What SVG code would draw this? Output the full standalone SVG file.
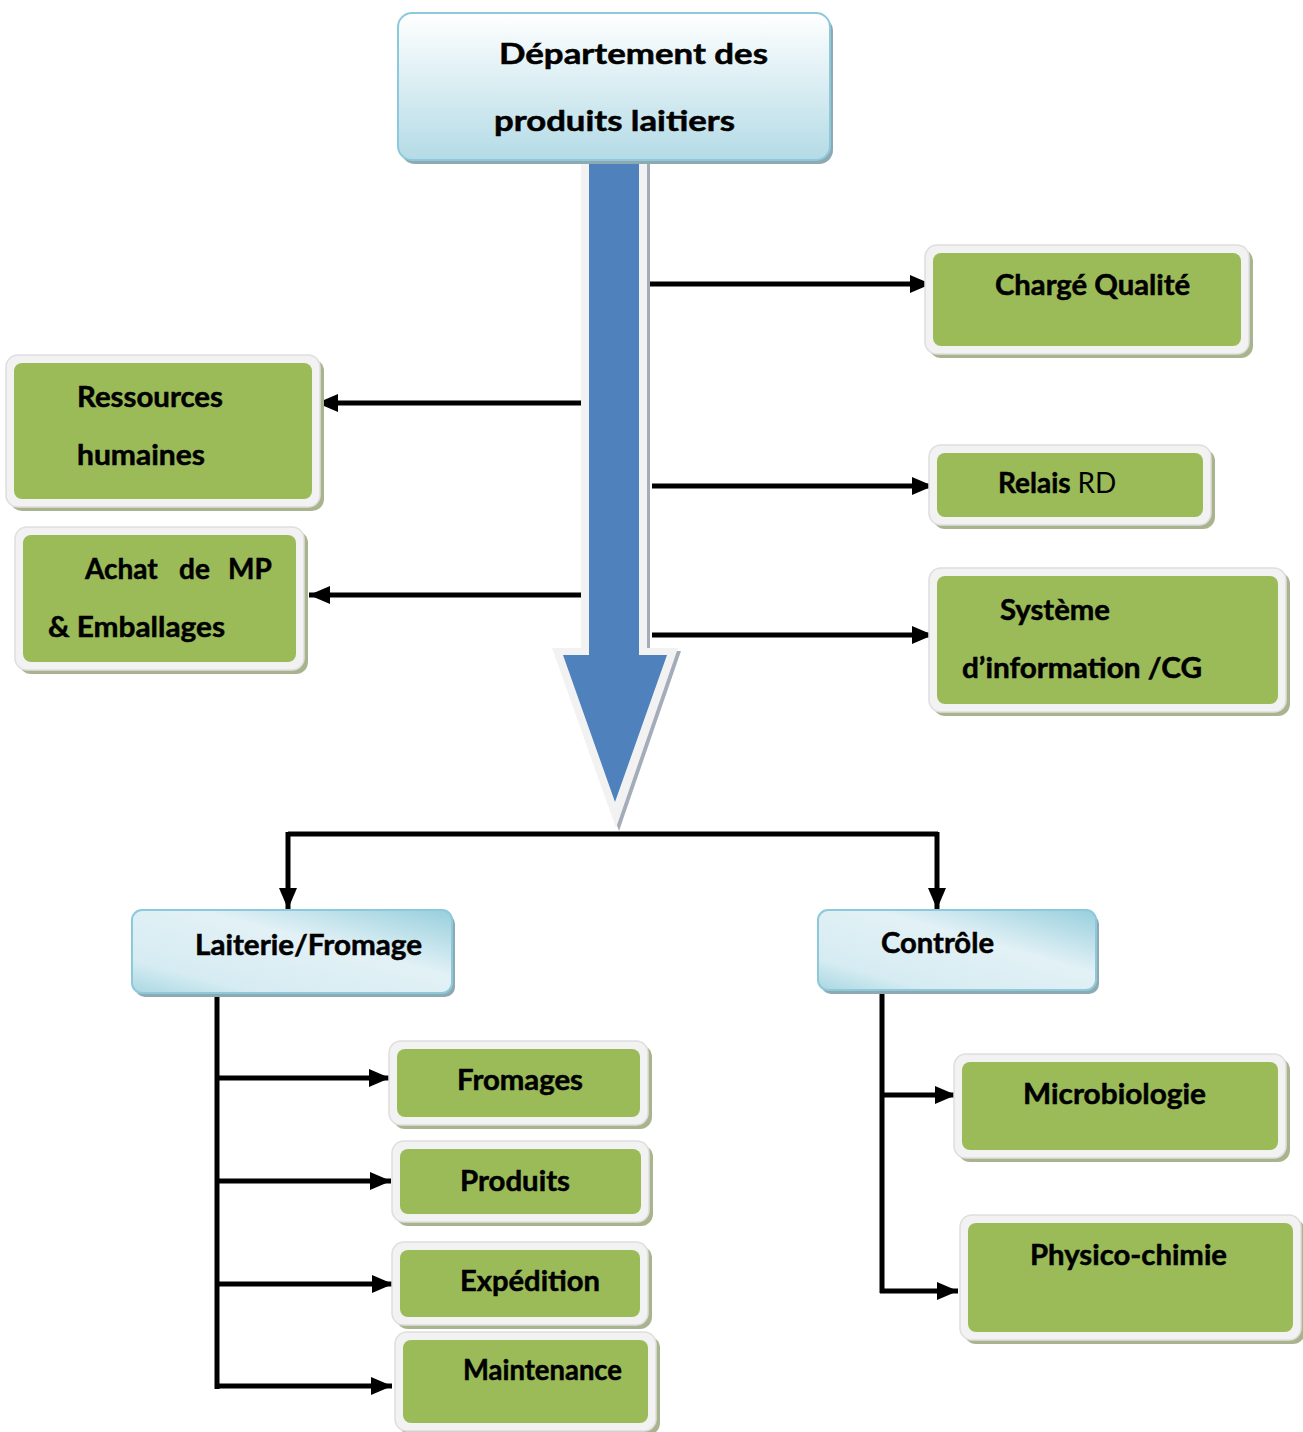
<svg xmlns="http://www.w3.org/2000/svg" width="1303" height="1432" viewBox="0 0 1303 1432">
<style>
.t{font-family:Lato,"Liberation Sans",sans-serif;font-weight:bold;font-size:28px;fill:#000;stroke:#000;stroke-width:0.5}
.r{font-weight:normal;stroke-width:0}
.gframe{fill:#f2f2f2;stroke:#dedede;stroke-width:1.5}
.gshadow{fill:#a9b48e}
.green{fill:#9bbb59}
.bshadow{fill:#8fa9b2}
.conn{stroke:#000;stroke-width:5;fill:none}
</style>
<defs>
<linearGradient id="gTop" x1="0" y1="0" x2="0" y2="1">
<stop offset="0" stop-color="#ffffff"/>
<stop offset="1" stop-color="#b4dbe6"/>
</linearGradient>
<linearGradient id="gSub" x1="0" y1="1" x2="1" y2="0">
<stop offset="0" stop-color="#a9d7e3"/>
<stop offset="0.2" stop-color="#d6ecf2"/>
<stop offset="0.6" stop-color="#e2f1f6"/>
<stop offset="1" stop-color="#97cfdd"/>
</linearGradient>
<marker id="ah" markerUnits="userSpaceOnUse" markerWidth="21" markerHeight="18" refX="21" refY="9" orient="auto">
<path d="M0,0 L21,9 L0,18 Z" fill="#000"/>
</marker>
</defs>

<g id="big-arrow">
<polygon points="584,163 650,163 650,651 681,651 619,831 555,651 584,651" fill="#a3acb8"/>
<polygon points="581,160 647,160 647,648 678,648 616,828 552,648 581,648" fill="#f2f2f2"/>
<polygon points="589,162 639,162 639,655 667,655 615,802 563,655 589,655" fill="#4f81bd"/>
</g>

<g id="connectors">
<line class="conn" x1="650" y1="284" x2="931" y2="284" marker-end="url(#ah)"/>
<line class="conn" x1="581" y1="403" x2="317" y2="403" marker-end="url(#ah)"/>
<line class="conn" x1="652" y1="486" x2="933" y2="486" marker-end="url(#ah)"/>
<line class="conn" x1="581" y1="595" x2="309" y2="595" marker-end="url(#ah)"/>
<line class="conn" x1="652" y1="635" x2="933" y2="635" marker-end="url(#ah)"/>
<polyline class="conn" points="288,834 938,834"/>
<line class="conn" x1="288" y1="832" x2="288" y2="909" marker-end="url(#ah)"/>
<line class="conn" x1="937" y1="832" x2="937" y2="909" marker-end="url(#ah)"/>
<line class="conn" x1="217" y1="995" x2="217" y2="1389"/>
<line class="conn" x1="215" y1="1078" x2="390" y2="1078" marker-end="url(#ah)"/>
<line class="conn" x1="215" y1="1181" x2="391" y2="1181" marker-end="url(#ah)"/>
<line class="conn" x1="215" y1="1284" x2="393" y2="1284" marker-end="url(#ah)"/>
<line class="conn" x1="215" y1="1386" x2="392" y2="1386" marker-end="url(#ah)"/>
<line class="conn" x1="882" y1="992" x2="882" y2="1293"/>
<line class="conn" x1="880" y1="1095" x2="956" y2="1095" marker-end="url(#ah)"/>
<line class="conn" x1="880" y1="1291" x2="958" y2="1291" marker-end="url(#ah)"/>
</g>

<g id="departement">
<rect class="bshadow" x="401" y="17" width="432" height="147" rx="14"/>
<rect x="398" y="13" width="432" height="147" rx="14" fill="url(#gTop)" stroke="#8ccadb" stroke-width="2"/>
<text class="t" x="499" y="64" textLength="269" lengthAdjust="spacingAndGlyphs">Département des</text>
<text class="t" x="494" y="131" textLength="241" lengthAdjust="spacingAndGlyphs">produits laitiers</text>
</g>

<g id="charge-qualite">
<rect class="gshadow" x="929" y="249" width="324" height="109" rx="12"/>
<rect class="gframe" x="925" y="245" width="324" height="109" rx="12"/>
<rect class="green" x="933" y="253" width="308" height="93" rx="8"/>
<text class="t" x="995" y="295" textLength="195" lengthAdjust="spacingAndGlyphs">Chargé Qualité</text>
</g>

<g id="ressources-humaines">
<rect class="gshadow" x="10" y="359" width="314" height="152" rx="12"/>
<rect class="gframe" x="6" y="355" width="314" height="152" rx="12"/>
<rect class="green" x="14" y="363" width="298" height="136" rx="8"/>
<text class="t" x="77" y="407" textLength="146" lengthAdjust="spacingAndGlyphs">Ressources</text>
<text class="t" x="77" y="465" textLength="128" lengthAdjust="spacingAndGlyphs">humaines</text>
</g>

<g id="achat">
<rect class="gshadow" x="19" y="531" width="289" height="143" rx="12"/>
<rect class="gframe" x="15" y="527" width="289" height="143" rx="12"/>
<rect class="green" x="23" y="535" width="273" height="127" rx="8"/>
<text class="t" y="579"><tspan x="85">Achat</tspan><tspan x="179">de</tspan><tspan x="228">MP</tspan></text>
<text class="t" x="48" y="637" textLength="177" lengthAdjust="spacingAndGlyphs">&amp; Emballages</text>
</g>

<g id="relais-rd">
<rect class="gshadow" x="933" y="449" width="282" height="80" rx="12"/>
<rect class="gframe" x="929" y="445" width="282" height="80" rx="12"/>
<rect class="green" x="937" y="453" width="266" height="64" rx="8"/>
<text class="t" x="998" y="493">Relais <tspan class="r">RD</tspan></text>
</g>

<g id="systeme-information">
<rect class="gshadow" x="933" y="572" width="357" height="144" rx="12"/>
<rect class="gframe" x="929" y="568" width="357" height="144" rx="12"/>
<rect class="green" x="937" y="576" width="341" height="128" rx="8"/>
<text class="t" x="1000" y="620" textLength="110" lengthAdjust="spacingAndGlyphs">Système</text>
<text class="t" x="962" y="678" textLength="240" lengthAdjust="spacingAndGlyphs">d’information /CG</text>
</g>

<g id="laiterie-fromage">
<rect class="bshadow" x="135" y="914" width="320" height="83" rx="10"/>
<rect x="132" y="910" width="320" height="83" rx="10" fill="url(#gSub)" stroke="#8ccadb" stroke-width="2"/>
<text class="t" x="195" y="955" textLength="227" lengthAdjust="spacingAndGlyphs">Laiterie/Fromage</text>
</g>

<g id="controle">
<rect class="bshadow" x="821" y="914" width="278" height="80" rx="10"/>
<rect x="818" y="910" width="278" height="80" rx="10" fill="url(#gSub)" stroke="#8ccadb" stroke-width="2"/>
<text class="t" x="881" y="953" textLength="113" lengthAdjust="spacingAndGlyphs">Contrôle</text>
</g>

<g id="fromages">
<rect class="gshadow" x="393" y="1045" width="259" height="84" rx="12"/>
<rect class="gframe" x="389" y="1041" width="259" height="84" rx="12"/>
<rect class="green" x="397" y="1049" width="243" height="68" rx="8"/>
<text class="t" x="457" y="1090" textLength="126" lengthAdjust="spacingAndGlyphs">Fromages</text>
</g>

<g id="produits">
<rect class="gshadow" x="396" y="1145" width="257" height="81" rx="12"/>
<rect class="gframe" x="392" y="1141" width="257" height="81" rx="12"/>
<rect class="green" x="400" y="1149" width="241" height="65" rx="8"/>
<text class="t" x="460" y="1191" textLength="110" lengthAdjust="spacingAndGlyphs">Produits</text>
</g>

<g id="expedition">
<rect class="gshadow" x="396" y="1246" width="256" height="83" rx="12"/>
<rect class="gframe" x="392" y="1242" width="256" height="83" rx="12"/>
<rect class="green" x="400" y="1250" width="240" height="67" rx="8"/>
<text class="t" x="460" y="1291" textLength="140" lengthAdjust="spacingAndGlyphs">Expédition</text>
</g>

<g id="maintenance">
<rect class="gshadow" x="399" y="1336" width="261" height="99" rx="12"/>
<rect class="gframe" x="395" y="1332" width="261" height="99" rx="12"/>
<rect class="green" x="403" y="1340" width="245" height="83" rx="8"/>
<text class="t" x="463" y="1380" textLength="159" lengthAdjust="spacingAndGlyphs">Maintenance</text>
</g>

<g id="microbiologie">
<rect class="gshadow" x="958" y="1058" width="332" height="104" rx="12"/>
<rect class="gframe" x="954" y="1054" width="332" height="104" rx="12"/>
<rect class="green" x="962" y="1062" width="316" height="88" rx="8"/>
<text class="t" x="1023" y="1104" textLength="183" lengthAdjust="spacingAndGlyphs">Microbiologie</text>
</g>

<g id="physico-chimie">
<rect class="gshadow" x="964" y="1219" width="341" height="125" rx="12"/>
<rect class="gframe" x="960" y="1215" width="341" height="125" rx="12"/>
<rect class="green" x="968" y="1223" width="325" height="109" rx="8"/>
<text class="t" x="1030" y="1265" textLength="197" lengthAdjust="spacingAndGlyphs">Physico-chimie</text>
</g>
</svg>
